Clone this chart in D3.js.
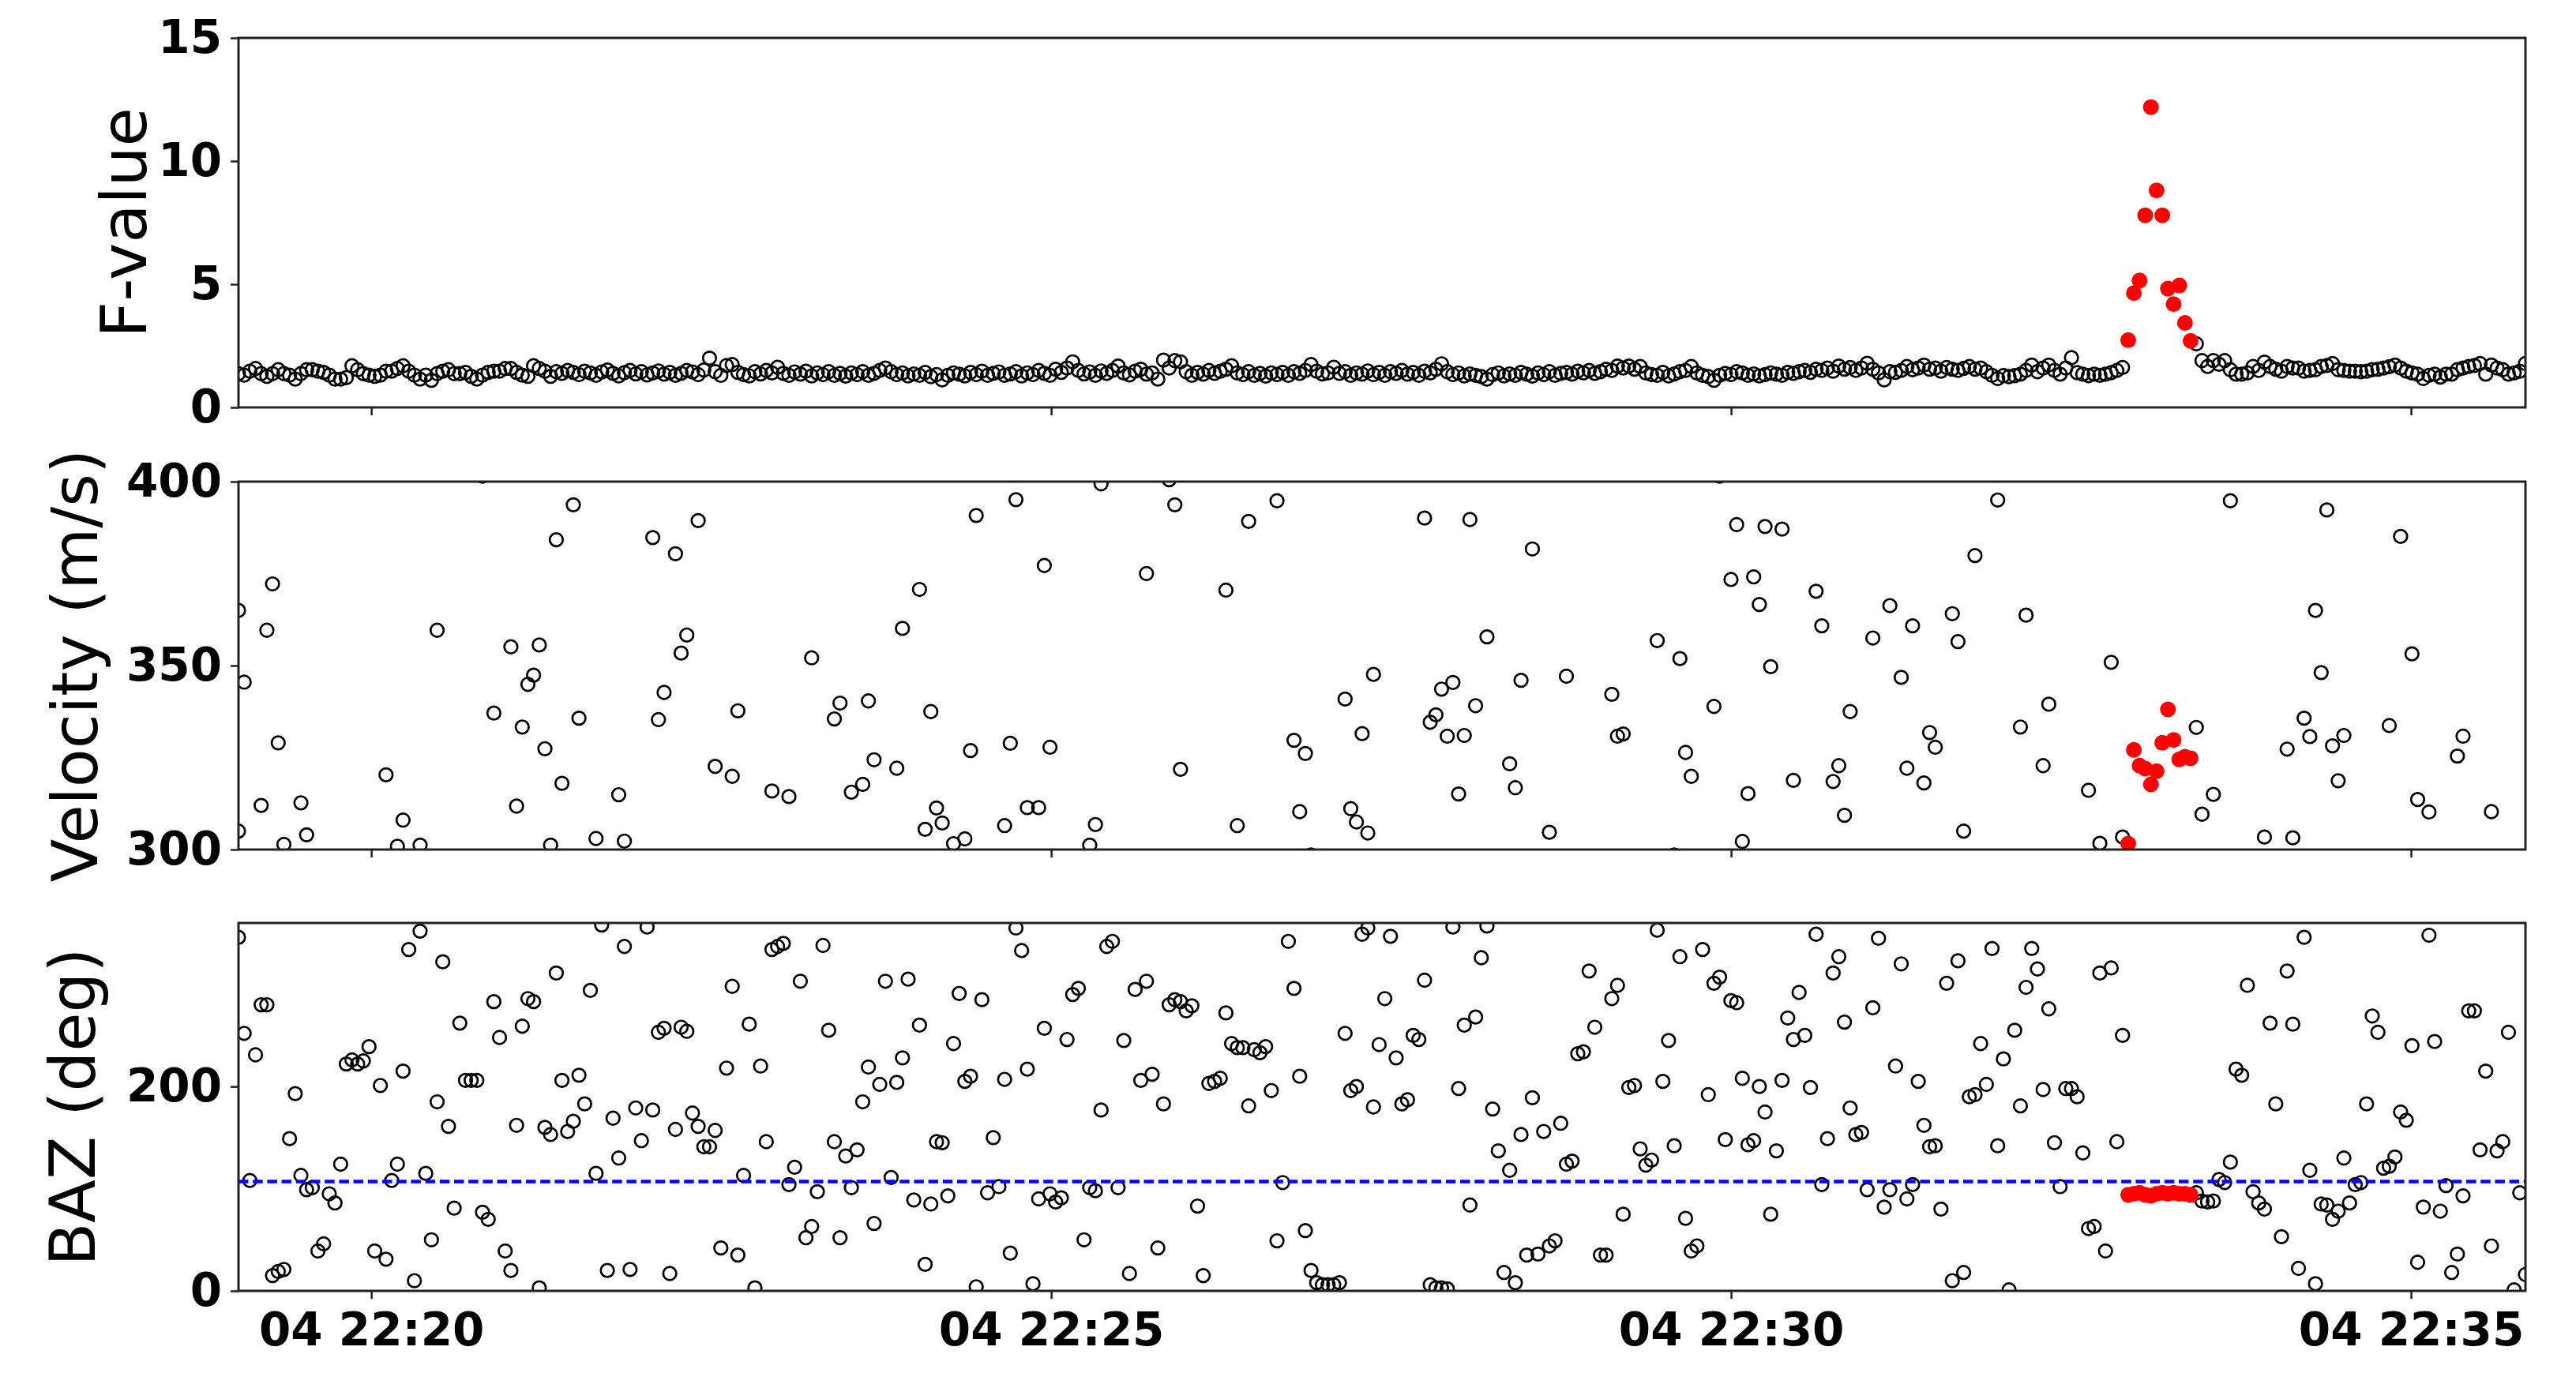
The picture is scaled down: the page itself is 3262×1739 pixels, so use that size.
<!DOCTYPE html>
<meta charset="utf-8">
<style>
  body { margin: 0; background: #fff; }
  .tick text {
    font-family: "DejaVu Sans", sans-serif;
    font-weight: bold;
    font-size: 58px;
    fill: #000;
  }
  .tick line { stroke: #222; stroke-width: 2.5px; }
  .ylabel {
    font-family: "DejaVu Sans", sans-serif;
    font-size: 80px;
    fill: #000;
  }
  .frame { fill: none; stroke: #222; stroke-width: 3px; }
</style>
<body>
<svg width="3262" height="1739"></svg>
<script src="https://d3js.org/d3.v7.min.js"></script>
<script>
//sampling of the detector: first window and step (s)---------------------------
const startTime = new Date(Date.UTC(2000, 0, 4, 22, 19, 1, 400));
const stepSeconds = 2.504;

//F-value of every window-------------------------------------------------------
const fValue = [
  1.37,1.31,1.47,1.58,1.37,1.26,1.37,1.53,1.37,1.31,
  1.15,1.37,1.53,1.53,1.47,1.42,1.31,1.15,1.15,1.21,
  1.69,1.53,1.37,1.31,1.26,1.31,1.47,1.47,1.58,1.69,
  1.47,1.31,1.15,1.31,1.10,1.37,1.47,1.53,1.37,1.37,
  1.42,1.26,1.15,1.31,1.42,1.47,1.47,1.58,1.58,1.42,
  1.31,1.26,1.69,1.58,1.47,
  1.26,1.45,1.38,1.5,1.42,1.33,1.47,1.4,1.3,1.44,
  1.52,1.38,1.28,1.41,1.5,1.36,1.45,1.32,1.4,1.48,
  1.35,1.42,1.3,1.38,1.5,1.44,1.33,1.52,2.0,1.45,
  1.3,1.7,1.74,1.42,1.33,1.28,1.45,1.36,1.5,1.4,
  1.63,1.38,1.3,1.44,1.35,1.47,1.28,1.4,1.33,1.45,
  1.3,1.38,1.27,1.4,1.33,1.45,1.3,1.38,1.5,1.6,
  1.45,1.33,1.4,1.28,1.36,1.3,1.42,1.25,1.33,1.12,
  1.3,1.4,1.35,1.28,1.42,1.33,1.47,1.3,1.38,1.44,
  1.3,1.36,1.45,1.28,1.4,1.33,1.5,1.38,1.3,1.55,
  1.42,1.6,1.85,1.5,1.36,1.44,1.3,1.48,1.38,1.5,
  1.68,1.4,1.32,1.47,1.55,1.35,1.4,1.15,1.92,1.6,
  1.9,1.85,1.45,1.3,1.42,1.35,1.5,1.38,1.47,1.55,
  1.69,1.4,1.33,1.45,1.3,1.38,1.27,1.4,1.33,1.42,
  1.3,1.45,1.38,1.5,1.74,1.47,1.36,1.4,1.63,1.38,
  1.45,1.3,1.4,1.35,1.48,1.33,1.42,1.3,1.45,1.38,
  1.5,1.35,1.42,1.3,1.47,1.4,1.55,1.77,1.45,1.33,
  1.4,1.28,1.36,1.3,1.25,1.15,1.33,1.4,1.28,1.36,
  1.3,1.42,1.35,1.27,1.4,1.33,1.45,1.3,1.38,1.42,
  1.35,1.47,1.4,1.5,1.38,1.45,1.55,1.5,1.68,1.6,
  1.68,1.55,1.66,1.4,1.33,1.3,1.42,1.28,1.36,1.45,
  1.5,1.66,1.4,1.3,1.25,1.1,1.3,1.38,1.33,1.45,
  1.4,1.3,1.36,1.28,1.33,1.4,1.35,1.3,1.42,1.38,
  1.45,1.5,1.42,1.55,1.5,1.6,1.47,1.68,1.55,1.62,
  1.5,1.6,1.79,1.55,1.4,1.12,1.45,
  1.42,1.5,1.66,1.53,1.6,1.72,1.55,1.6,1.47,1.62,
  1.55,1.5,1.58,1.66,1.55,1.6,1.45,1.3,1.17,1.29,
  1.25,1.29,1.35,1.5,1.72,1.45,1.6,1.72,1.5,1.35,
  1.6,2.02,1.41,1.35,1.29,1.35,1.3,1.35,1.41,1.5,1.62,
  2.73,4.64,5.15,7.80,12.19,8.81,7.80,4.82,4.19,4.95,3.43,2.70,
  2.58,1.9,1.66,1.9,1.75,1.9,1.53,1.35,1.35,1.4,
  1.66,1.5,1.84,1.66,1.55,1.47,1.66,1.6,1.6,1.47,
  1.5,1.53,1.66,1.7,1.78,1.53,1.5,1.47,1.47,1.45,
  1.47,1.53,1.55,1.6,1.65,1.72,1.6,1.47,1.4,1.35,
  1.17,1.3,1.35,1.23,1.35,1.35,1.53,1.6,1.66,1.7,
  1.78,1.35,1.72,1.6,1.53,1.35,1.4,1.47,1.78
];

//back azimuth (deg) of every window--------------------------------------------
const bazDeg = [
  346,252,108,231,280,280,15,19,21,149,
  193,113,99,101,39,46,95,86,124,222,
  226,222,225,239,39,201,31,108,124,215,
  334,10,352,115,50,185,322,161,81,262,
  206,206,206,77,70,283,248,39,20,162,
  259,286,283,3,160,153,311,206,156,166,
  211,183,294,115,358,20,169,130,337,21,
  179,147,356,177,253,257,17,158,258,254,
  174,161,141,141,157,
  42,218,298,35,113,261,3,220,146,334,
  337,340,104,121,303,52,63,97,338,255,
  146,52,132,101,138,185,219,66,202,303,
  111,204,228,305,89,260,26,85,146,145,
  93,242,291,205,210,4,285,96,150,102,
  207,37,355,333,217,7,90,257,95,87,
  91,246,290,296,50,101,98,177,337,342,
  101,245,17,295,206,303,212,42,183,280,
  285,
  283,274,279,83,15,203,205,208,272,242,
  238,238,181,236,233,239,196,49,106,342,
  296,210,59,20,8,6,6,6,8,252,
  196,200,349,355,180,241,286,347,228,183,
  187,250,246,304,6,3,3,2,356,198,
  260,84,268,326,357,178,137,18,118,8,
  153,35,189,36,156,44,49,164,124,127,
  232,234,313,258,35,35,286,299,75,199,
  201,139,123,128,353,
  205,245,142,327,71,39,44,334,192,301,
  307,148,284,282,208,143,147,200,175,75,
  137,206,267,246,292,250,199,349,104,149,
  311,327,263,179,153,155,99,277,345,82,
  99,220,320,90,104,205,162,141,142,80,
  301,10,323,18,190,192,242,202,335,142,
  227,1,255,181,297,335,315,197,276,145,
  102,198,198,190,135,61,63,311,39,316,
  146,250,
  94,95,96,94,93,95,96,95,96,95,95,94,
  96,88,87,88,109,106,126,217,211,299,
  97,86,80,262,183,53,313,261,22,346,
  118,7,85,84,70,78,130,86,104,106,
  183,269,253,120,122,131,175,167,240,28,
  82,348,244,78,103,18,36,93,274,274,
  138,215,44,137,146,253,1,96,16
];

//apparent velocity (m/s): only windows that fall inside 300-400 are kept--------
const velIndex = [
  0,0,1,4,5,6,7,8,11,12,26,28,29,32,35,43,45,48,49,50,
  51,52,53,54,55,56,57,59,60,63,67,68,73,74,75,77,78,79,81,84,
  87,88,94,97,101,105,106,108,110,111,112,116,117,120,121,122,123,124,126,128,
  129,130,135,136,137,139,141,142,143,150,151,152,160,164,165,166,174,176,178,183,
  186,187,188,189,195,196,197,198,199,200,
  209,210,211,212,213,214,215,216,217,218,220,224,225,226,228,231,234,242,243,244,
  250,253,254,255,256,260,261,263,264,265,266,267,268,269,270,272,274,278,279,281,
  282,283,284,288,291,293,294,295,297,298,299,302,303,304,306,310,314,315,318,319,
  326,328,330,332,
  333,334,335,336,337,338,339,340,341,342,343,344,
  345,346,348,351,357,361,362,364,365,366,367,368,369,370,371,379,381,383,384,386,
  391,392,397
];
const velMs = [
  365,305,345.5,312,359.6,372.2,329,301.4,312.7,304,320.3,300.9,308,301.2,359.6,401.5,337.1,355.1,311.8,333.3,
  344.9,347.4,355.6,327.4,301.2,384.2,318,393.7,335.7,303,314.9,302.3,384.8,335.3,342.7,380.4,353.4,358.3,389.4,322.6,
  319.9,337.7,315.9,314.4,352.1,335.5,339.8,315.6,317.7,340.4,324.4,322.1,360.1,370.7,305.5,337.5,311.3,307.2,301.6,302.9,
  326.9,390.8,306.5,328.9,395.1,311.4,311.4,377.2,327.8,301.2,306.8,399.4,375,400.5,393.7,321.8,370.5,306.5,389.2,394.8,
  329.7,310.3,326.1,298.5,340.9,311.1,307.5,331.5,304.5,347.6,
  390.1,334.6,336.6,343.6,330.8,345.4,315.1,331,389.7,339.1,357.8,323.3,316.8,346,381.7,304.7,347.1,342.2,330.8,331.4,
  356.8,298.5,351.9,326.4,319.9,338.9,401.5,373.4,388.3,302.2,315.2,374.1,366.6,387.8,349.7,387.1,318.8,370.2,360.8,318.5,
  322.8,309.3,337.5,357.5,366.3,346.8,322.1,360.8,318.1,331.8,327.8,364.1,356.5,305,379.9,395,333.3,363.7,322.8,339.5,
  316.1,301.7,350.9,303.4,
  301.6,327.1,322.8,322,317.7,321.3,329,338.1,329.8,324.5,325.2,324.8,
  333.2,309.6,315,394.8,303.4,327.3,303.2,335.7,330.7,365,348.1,392.3,328.2,318.7,331,333.7,385.1,353.2,313.6,310.2,
  325.4,330.8,310.3
];

//windows flagged as a detection (drawn red)-------------------------------------
const detected = [333,334,335,336,337,338,339,340,341,342,343,344];

//expected back azimuth of the source (blue dashed line)------------------------
const expectedBaz = 107;

//tick values------------------------------------------------------------------
const fTicks = [0, 5, 10, 15];
const velTicks = [300, 350, 400];
const bazTicks = [0, 200];
//------------------------------------------------------------------------------

const svg = d3.select('svg');
const left = 302, right = 3198;

const times = fValue.map((d, i) => new Date(startTime.getTime() + i * stepSeconds * 1000));

const x = d3.scaleUtc()
  .domain([times[0], times[times.length - 1]])
  .range([left, right]);

const timeTicks = d3.utcMinute.every(5).range(times[0], times[times.length - 1]);

//panels: F-value, velocity, back azimuth---------------------------------------
const panels = [
  { id: 'f', top: 48, bottom: 516, label: 'F-value', labelX: 185,
    domain: [0, 15], ticks: fTicks,
    points: fValue.map((v, i) => ({ t: times[i], v: v, red: detected.includes(i) })) },
  { id: 'vel', top: 610, bottom: 1076, label: 'Velocity (m/s)', labelX: 123,
    domain: [300, 400], ticks: velTicks,
    points: velMs.map((v, k) => ({ t: times[velIndex[k]], v: v, red: detected.includes(velIndex[k]) })) },
  { id: 'baz', top: 1169, bottom: 1635, label: 'BAZ (deg)', labelX: 120,
    domain: [0, 360], ticks: bazTicks,
    points: bazDeg.map((v, i) => ({ t: times[i], v: v, red: detected.includes(i) })) }
];

panels.forEach((p, n) => {
  const y = d3.scaleLinear().domain(p.domain).range([p.bottom, p.top]);
  const g = svg.append('g');

  svg.append('clipPath').attr('id', 'clip-' + p.id)
    .append('rect')
    .attr('x', left).attr('y', p.top)
    .attr('width', right - left).attr('height', p.bottom - p.top);

  const plot = g.append('g').attr('clip-path', 'url(#clip-' + p.id + ')');

  //black open circles first, detections on top
  plot.selectAll('circle.open')
    .data(p.points.filter(d => !d.red))
    .enter().append('circle')
    .attr('class', 'open')
    .attr('cx', d => x(d.t))
    .attr('cy', d => y(d.v))
    .attr('r', 8.3)
    .attr('fill', 'none')
    .attr('stroke', '#000')
    .attr('stroke-width', 2.7);

  plot.selectAll('circle.det')
    .data(p.points.filter(d => d.red))
    .enter().append('circle')
    .attr('class', 'det')
    .attr('cx', d => x(d.t))
    .attr('cy', d => y(d.v))
    .attr('r', 10)
    .attr('fill', '#ff0000');

  if (p.id === 'baz') {
    plot.append('line')
      .attr('x1', left).attr('x2', right)
      .attr('y1', y(expectedBaz)).attr('y2', y(expectedBaz))
      .attr('stroke', '#0000ff')
      .attr('stroke-width', 4.5)
      .attr('stroke-dasharray', '12.5,5.7');
  }

  //axes
  const yAxis = g.append('g')
    .attr('transform', 'translate(' + left + ',0)')
    .call(d3.axisLeft(y).tickValues(p.ticks).tickSize(10).tickPadding(11));
  yAxis.select('.domain').remove();

  const xAxis = g.append('g')
    .attr('transform', 'translate(0,' + p.bottom + ')')
    .call(d3.axisBottom(x).tickValues(timeTicks).tickSize(10).tickPadding(18)
      .tickFormat(n === panels.length - 1 ? d3.utcFormat('%d %H:%M') : () => ''));
  xAxis.select('.domain').remove();

  g.append('rect')
    .attr('class', 'frame')
    .attr('x', left).attr('y', p.top)
    .attr('width', right - left).attr('height', p.bottom - p.top);

  g.append('text')
    .attr('class', 'ylabel')
    .attr('text-anchor', 'middle')
    .attr('transform', 'translate(' + p.labelX + ',' + ((p.top + p.bottom) / 2) + ') rotate(-90)')
    .text(p.label);
});
</script>
